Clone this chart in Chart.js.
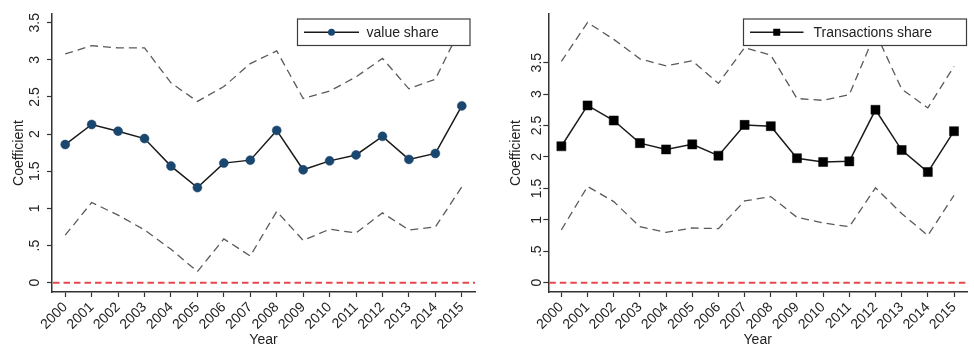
<!DOCTYPE html>
<html>
<head>
<meta charset="utf-8">
<script src="https://cdn.jsdelivr.net/npm/chart.js@4.4.1/dist/chart.umd.min.js"></script>
<style>
  html, body { margin: 0; padding: 0; background: #fff; }
  #wrap { position: relative; width: 974px; height: 346px; overflow: hidden; }
  .panel { position: absolute; top: 0; height: 346px; }
</style>
</head>
<body>
<div id="wrap">
  <div class="panel" style="left:0;width:490px"><canvas id="valueChart" width="490" height="346"></canvas></div>
  <div class="panel" style="left:490px;width:484px"><canvas id="txChart" width="484" height="346"></canvas></div>
</div>
<script>
// Categories
const years = ['2000','2001','2002','2003','2004','2005','2006','2007',
               '2008','2009','2010','2011','2012','2013','2014','2015'];

// Value share: coefficient with upper / lower confidence bounds
const valueShare = [1.86, 2.13, 2.04, 1.94, 1.57, 1.28, 1.61, 1.65, 2.05, 1.52, 1.64, 1.72, 1.97, 1.66, 1.74, 2.38];
const valueUpper = [3.08, 3.19, 3.16, 3.16, 2.69, 2.44, 2.64, 2.95, 3.12, 2.48, 2.58, 2.77, 3.02, 2.61, 2.74, 3.46];
const valueLower = [0.64, 1.08, 0.91, 0.71, 0.45, 0.15, 0.59, 0.36, 0.96, 0.57, 0.72, 0.67, 0.94, 0.71, 0.75, 1.29];

// Transactions share: coefficient with upper / lower confidence bounds
const txShare = [2.17, 2.82, 2.58, 2.22, 2.12, 2.20, 2.02, 2.51, 2.49, 1.98, 1.92, 1.93, 2.75, 2.11, 1.76, 2.41];
const txUpper = [3.52, 4.14, 3.87, 3.56, 3.45, 3.53, 3.17, 3.74, 3.62, 2.93, 2.90, 2.99, 3.98, 3.08, 2.78, 3.44];
const txLower = [0.84, 1.53, 1.29, 0.89, 0.80, 0.87, 0.86, 1.30, 1.37, 1.04, 0.95, 0.89, 1.51, 1.10, 0.75, 1.39];

// Y tick values and the reference line
const yTicks = [0, 0.5, 1, 1.5, 2, 2.5, 3, 3.5];
const referenceValue = 0;

Chart.defaults.font.family = "'Liberation Sans', Arial, sans-serif";
Chart.defaults.font.size = 14;
Chart.defaults.color = '#222';

const fmtTick = v => (v > 0 && v < 1) ? String(v).replace(/^0/, '') : String(v);

// Red dashed horizontal reference line across the plot area
const refLine = {
  id: 'refLine',
  beforeDatasetsDraw(chart, args, opts) {
    const { ctx, chartArea: a, scales: { y } } = chart;
    const py = y.getPixelForValue(opts.value);
    ctx.save();
    ctx.strokeStyle = '#e8474c';
    ctx.lineWidth = 2;
    ctx.setLineDash([6.5, 4]);
    ctx.beginPath();
    ctx.moveTo(a.left + 1, py);
    ctx.lineTo(a.right, py);
    ctx.stroke();
    ctx.restore();
  }
};

// Boxed legend with a line-and-marker key
const boxLegend = {
  id: 'boxLegend',
  afterDraw(chart, args, o) {
    const ctx = chart.ctx;
    const ds = chart.data.datasets[0];
    ctx.save();
    ctx.fillStyle = '#fff';
    ctx.fillRect(o.x, o.y, o.w, o.h);
    ctx.strokeStyle = '#3c3c3c';
    ctx.lineWidth = 1.2;
    ctx.strokeRect(o.x, o.y, o.w, o.h);
    const cy = o.y + o.h / 2;
    ctx.strokeStyle = ds.borderColor;
    ctx.lineWidth = 1.5;
    ctx.beginPath();
    ctx.moveTo(o.lineX0, cy);
    ctx.lineTo(o.lineX1, cy);
    ctx.stroke();
    const mx = (o.lineX0 + o.lineX1) / 2;
    ctx.fillStyle = ds.pointBackgroundColor;
    if (o.marker === 'circle') {
      ctx.beginPath();
      ctx.arc(mx, cy, o.size / 2, 0, Math.PI * 2);
      ctx.fill();
    } else {
      ctx.fillRect(mx - o.size / 2, cy - o.size / 2, o.size, o.size);
    }
    ctx.fillStyle = '#222';
    ctx.font = "14px 'Liberation Sans', Arial, sans-serif";
    ctx.textBaseline = 'middle';
    ctx.textAlign = 'left';
    ctx.fillText(ds.label, o.textX, cy + 0.5);
    ctx.restore();
  }
};

function buildChart(canvasId, cfg) {
  const axisStyle = {
    grid: { display: true, drawOnChartArea: false, drawTicks: true, tickLength: 5, tickColor: '#333', tickWidth: 1.2 },
    border: { display: true, color: '#333', width: 1.5 }
  };
  return new Chart(document.getElementById(canvasId), {
    type: 'line',
    data: {
      labels: years,
      datasets: [
        {
          label: cfg.label,
          data: cfg.main,
          borderColor: '#1a1a1a',
          borderWidth: 1.5,
          pointStyle: cfg.marker,
          pointRadius: cfg.pointRadius,
          pointBackgroundColor: cfg.markerColor,
          pointBorderColor: cfg.markerColor,
          pointBorderWidth: 0.5,
          tension: 0
        },
        {
          label: 'upper',
          data: cfg.upper,
          borderColor: '#5a5a5a',
          borderWidth: 1.3,
          borderDash: [8, 5],
          pointRadius: 0,
          tension: 0
        },
        {
          label: 'lower',
          data: cfg.lower,
          borderColor: '#5a5a5a',
          borderWidth: 1.3,
          borderDash: [8, 5],
          pointRadius: 0,
          tension: 0
        }
      ]
    },
    options: {
      responsive: false,
      animation: false,
      events: [],
      layout: { padding: { left: cfg.padLeft, right: cfg.padRight, top: 14, bottom: 0 } },
      plugins: {
        legend: { display: false },
        tooltip: { enabled: false },
        refLine: { value: referenceValue },
        boxLegend: cfg.legend
      },
      scales: {
        x: {
          type: 'category',
          offset: true,
          ...axisStyle,
          ticks: { autoSkip: false, minRotation: 45, maxRotation: 45, padding: 2, color: '#222' },
          title: { display: true, text: 'Year', color: '#222', padding: { top: 0, bottom: -3 } },
          afterFit(s) { s.height = 54; }
        },
        y: {
          min: cfg.yMin,
          max: cfg.yMax,
          ...axisStyle,
          afterBuildTicks(s) { s.ticks = yTicks.map(v => ({ value: v })); },
          ticks: { minRotation: 90, maxRotation: 90, crossAlign: 'center', padding: cfg.tickPad, color: '#222', callback: fmtTick },
          title: { display: true, text: 'Coefficient', color: '#222', padding: 0 },
          afterFit(s) { s.width = cfg.axisWidth; }
        }
      }
    },
    plugins: [refLine, boxLegend]
  });
}

buildChart('valueChart', {
  label: 'value share',
  main: valueShare, upper: valueUpper, lower: valueLower,
  marker: 'circle', pointRadius: 4.5, markerColor: '#1a476f',
  yMin: -0.125, yMax: 3.617,
  padLeft: 11, padRight: 15, axisWidth: 41, tickPad: 2.3,
  legend: { x: 297.5, y: 19, w: 172.5, h: 26.5, lineX0: 304, lineX1: 359, marker: 'circle', size: 7, textX: 366.5 }
});

buildChart('txChart', {
  label: 'Transactions share',
  main: txShare, upper: txUpper, lower: txLower,
  marker: 'rect', pointRadius: 6.4, markerColor: '#000',
  yMin: -0.148, yMax: 4.274,
  padLeft: 17.5, padRight: 1, axisWidth: 40.8, tickPad: -3.5,
  legend: { x: 253.5, y: 19, w: 223, h: 26.5, lineX0: 260, lineX1: 313.5, marker: 'rect', size: 7, textX: 323.5 }
});
</script>
</body>
</html>
